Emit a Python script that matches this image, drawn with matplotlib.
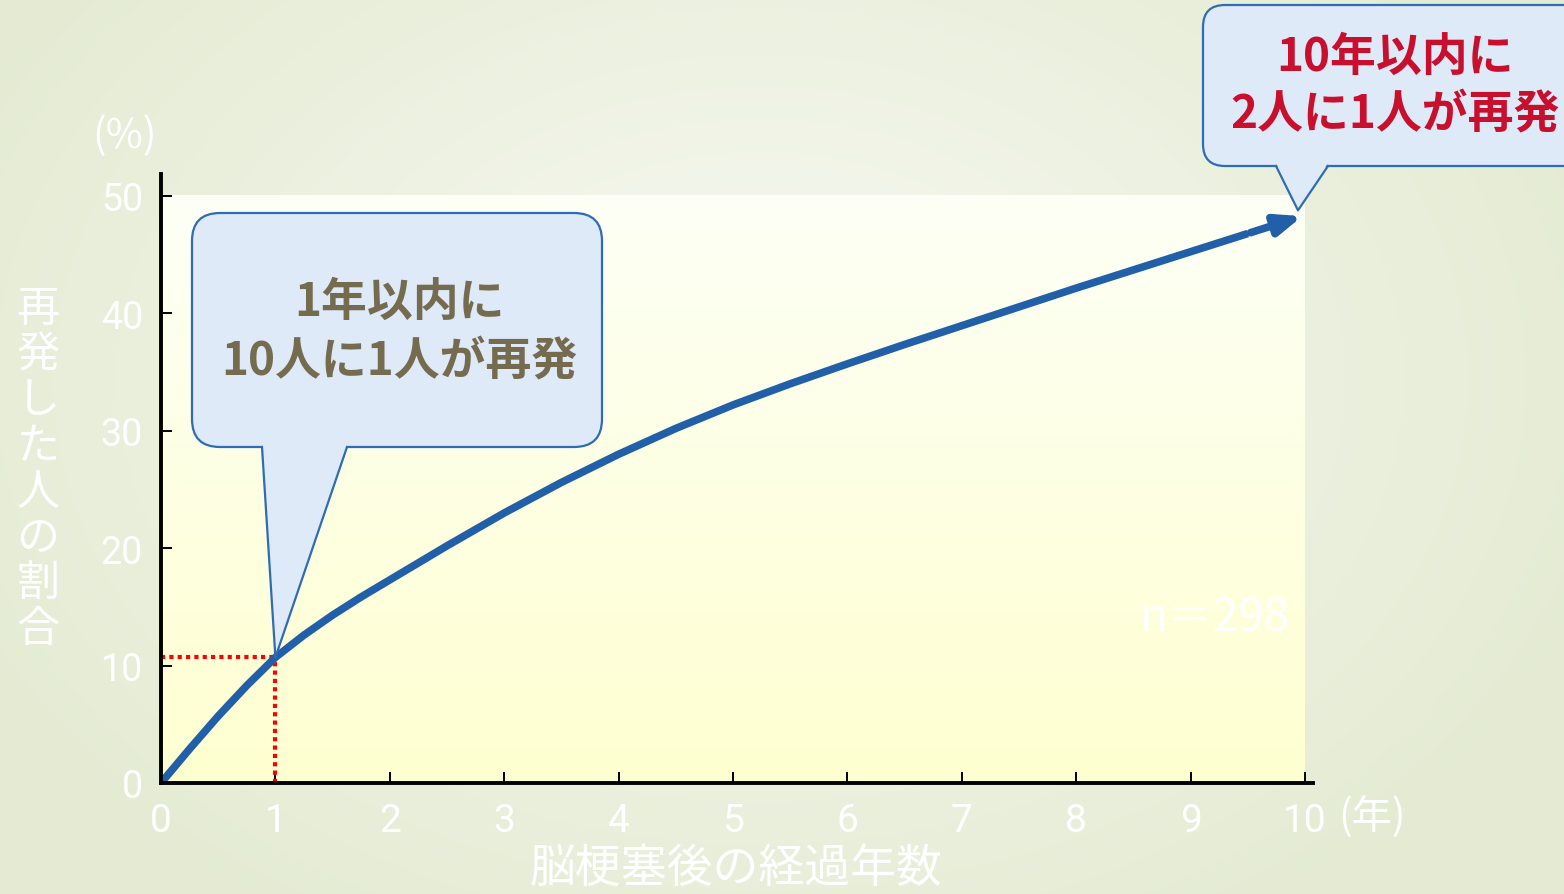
import numpy as np
import matplotlib
matplotlib.use("Agg")
from matplotlib import pyplot as plt
from matplotlib.patches import FancyBboxPatch, Polygon

plt.rcParams["font.family"] = ["Noto Sans CJK JP", "DejaVu Sans"]

# data
years = [0, 0.25, 0.5, 0.75, 1, 1.25, 1.5, 1.75, 2, 2.5, 3, 3.5, 4, 4.5, 5,
         5.5, 6, 6.5, 7, 7.5, 8, 8.5, 9, 9.5, 10]
rate = [0, 2.9, 5.7, 8.3, 10.7, 12.6, 14.3, 15.85, 17.3, 20.2, 23.0, 25.6,
        28.0, 30.2, 32.2, 34.0, 35.7, 37.35, 38.95, 40.55, 42.15, 43.7,
        45.25, 46.8, 48.35]
xticks = [0, 1, 2, 3, 4, 5, 6, 7, 8, 9, 10]
yticks = [0, 10, 20, 30, 40, 50]
ylabel = "再発した人の割合"
xlabel = "脳梗塞後の経過年数"
note1 = ["1年以内に", "10人に1人が再発"]
note2 = ["10年以内に", "2人に1人が再発"]
n_text = "n＝298"

W, H = 1564, 895
fig = plt.figure(figsize=(W / 100, H / 100), dpi=100)

# slide background (soft radial gradient)
bg = fig.add_axes([0, 0, 1, 1], zorder=-5)
yy, xx = np.mgrid[0:H, 0:W]
d = np.sqrt(((xx - 760) / 900.0) ** 2 + ((yy - 380) / 650.0) ** 2)
d = np.clip(d, 0, 1)[..., None]
c_in = np.array([248, 249, 243]) / 255
c_out = np.array([228, 235, 210]) / 255
bg.imshow(c_in * (1 - d) + c_out * d, aspect="auto", extent=[0, W, H, 0])
bg.set_axis_off()

ax = fig.add_axes([161 / W, 111 / H, 1152 / W, 609 / H], zorder=1)
ax.set_facecolor("none")
ax.set_xlim(0, 10.07)
ax.set_ylim(0, 51.87)

# plot area gradient (white top -> pale yellow bottom)
grad = np.linspace(0, 1, 100)[:, None, None]
top = np.array([253, 255, 246]) / 255
bot = np.array([255, 255, 208]) / 255
ax.imshow(top * (1 - grad) + bot * grad, aspect="auto",
          extent=[0, xticks[-1], 0, yticks[-1]], zorder=0)

blue = "#2160a9"
ax.plot(years[:-1], rate[:-1], color=blue, lw=5.5, solid_capstyle="butt",
        solid_joinstyle="round", zorder=3)
ax.annotate("", xy=(years[-1], rate[-1]), xytext=(years[-2], rate[-2]),
            arrowprops=dict(arrowstyle="-|>,head_length=0.95,head_width=0.38",
                            color=blue, lw=5.5, mutation_scale=16), zorder=3)

# 1-year guide
i1 = years.index(1)
ax.plot([0, years[i1]], [rate[i1], rate[i1]], color="red", lw=3,
        linestyle=(0, (1, 1)), zorder=2)
ax.plot([years[i1], years[i1]], [0, rate[i1]], color="red", lw=3,
        linestyle=(0, (1, 1)), zorder=2)

for s in ["top", "right"]:
    ax.spines[s].set_visible(False)
for s in ["left", "bottom"]:
    ax.spines[s].set_linewidth(2.8)
    ax.spines[s].set_zorder(4)
ax.set_xticks(xticks)
ax.set_yticks(yticks)
ax.tick_params(axis="both", direction="in", length=8, width=1.4,
               colors="black", labelcolor="white")
ax.tick_params(axis="x", labelsize=28, pad=14)
ax.tick_params(axis="y", labelsize=27, pad=13)
for lab in ax.get_xticklabels() + ax.get_yticklabels():
    lab.set_family(["Roboto", "DejaVu Sans"])

# overlay in pixel coordinates for labels and callouts
ov = fig.add_axes([0, 0, 1, 1], zorder=10)
ov.set_xlim(0, W)
ov.set_ylim(H, 0)
ov.set_axis_off()
ov.patch.set_alpha(0)

ov.text(1290, 618, n_text, fontsize=33, color="white", ha="right",
        va="center")
ov.text(125, 136, "(%)", fontsize=29, color="white", ha="center", va="center")
ov.text(1338, 817, "(年)", fontsize=29, color="white", ha="left", va="center")
ov.text(736, 869, xlabel, fontsize=33, color="white", ha="center", va="center")
for i, ch in enumerate(ylabel):
    ov.text(38, 310 + i * 45.7, ch, fontsize=31, color="white",
            ha="center", va="center")


def to_px(x, y):
    px, py = ax.transData.transform((x, y))
    return px, H - py


def callout(x0, y0, x1, y1, tail_a, tail_b, tip, r):
    face, edge = "#dfeaf8", "#2e6cb5"
    box = FancyBboxPatch((x0, y0), x1 - x0, y1 - y0,
                         boxstyle=f"round,pad=0,rounding_size={r}",
                         fc=face, ec=edge, lw=1.6, zorder=1, clip_on=False)
    ov.add_patch(box)
    tail = Polygon([(tail_a, y1 - 3), (tail_b, y1 - 3), tip], closed=True,
                   fc=face, ec="none", zorder=2, clip_on=False)
    ov.add_patch(tail)
    ov.plot([tail_a, tip[0], tail_b], [y1, tip[1], y1], color=edge, lw=1.6,
            zorder=3, clip_on=False)


tip1 = to_px(years[i1], rate[i1])
callout(192, 214, 602, 448, 262, 347, tip1, 28)
ov.text(399, 303, note1[0], fontsize=33, fontweight="bold", color="#756c50",
        ha="center", va="center", zorder=4)
ov.text(399, 362, note1[1], fontsize=33, fontweight="bold", color="#756c50",
        ha="center", va="center", zorder=4)

ex, ey = to_px(years[-1], rate[-1])
callout(1203, 6, 1590, 167, 1276, 1328, (ex - 7, ey - 5), 22)
ov.text(1395, 58, note2[0], fontsize=33, fontweight="bold", color="#c8102e",
        ha="center", va="center", zorder=4)
ov.text(1395, 115, note2[1], fontsize=33, fontweight="bold", color="#c8102e",
        ha="center", va="center", zorder=4)

plt.savefig("out.png", dpi=100)
